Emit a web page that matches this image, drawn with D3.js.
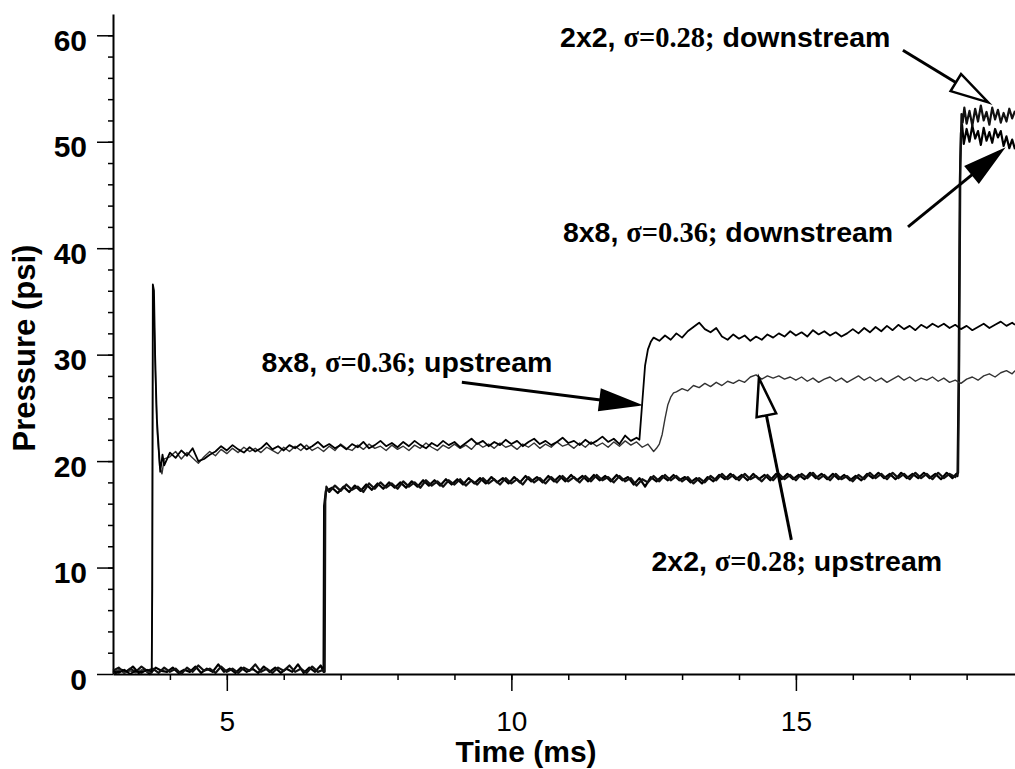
<!DOCTYPE html>
<html>
<head>
<meta charset="utf-8">
<script src="https://cdn.jsdelivr.net/npm/d3@7"></script>
<style>
  body { margin: 0; background: #fff; }
  svg { display: block; }
</style>
</head>
<body>
<svg id="chart"></svg>
<script>
// tick labels
const xMajorTicks = [5, 10, 15];
const yMajorTicks = [0, 10, 20, 30, 40, 50, 60];

// 8x8, sigma=0.36; upstream  [time (ms), pressure (psi)]
const up8Points = [
  [3.00,0.3],[3.10,0.1],[3.20,0.4],[3.30,0.0],[3.40,0.3],[3.50,0.1],[3.60,0.4],[3.68,0.2],
  [3.69,8.0],[3.70,36.6],[3.72,36.0],[3.74,30.0],[3.77,24.0],[3.80,21.5],[3.83,19.0],[3.87,20.6],[3.90,19.6],
  [4.0,20.8],[4.1,20.3],[4.2,21.0],[4.3,20.5],[4.4,21.2],[4.5,20.0],[4.6,20.2],[4.7,20.6],[4.8,20.9],[4.9,21.4],
  [5.0,21.0],[5.1,21.5],[5.2,21.1],[5.3,20.8],[5.4,21.3],[5.5,20.9],[5.6,21.2],[5.7,21.7],[5.8,21.1],[5.9,21.4],
  [6.0,21.0],[6.1,21.5],[6.2,21.2],[6.3,21.6],[6.4,21.1],[6.5,21.4],[6.6,21.8],[6.7,21.3],[6.8,21.6],[6.9,21.2],
  [7.0,21.5],[7.1,21.1],[7.2,21.6],[7.3,21.3],[7.4,21.8],[7.5,21.2],[7.6,21.5],[7.7,21.9],[7.8,21.4],[7.9,21.7],
  [8.0,21.3],[8.1,21.8],[8.2,21.4],[8.3,21.9],[8.4,21.5],[8.5,21.2],[8.6,21.7],[8.7,21.4],[8.8,21.9],[8.9,21.5],
  [9.0,21.8],[9.1,21.3],[9.2,21.7],[9.3,22.1],[9.4,21.6],[9.5,21.9],[9.6,21.4],[9.7,21.8],[9.8,21.5],[9.9,22.0],
  [10.0,21.6],[10.1,21.9],[10.2,21.4],[10.3,21.8],[10.4,22.1],[10.5,21.6],[10.6,21.9],[10.7,21.5],[10.8,21.8],[10.9,22.2],
  [11.0,21.7],[11.1,21.9],[11.2,21.5],[11.3,22.0],[11.4,21.6],[11.5,21.9],[11.6,22.3],[11.7,21.8],[11.8,22.1],[11.9,21.6],
  [12.0,22.4],[12.1,21.9],[12.2,22.2],[12.25,22.0],[12.30,25.5],[12.35,29.0],[12.40,30.5],[12.45,31.2],[12.5,31.6],
  [12.6,31.3],[12.7,31.8],[12.8,31.4],[12.9,32.0],[13.0,31.6],[13.1,32.2],[13.2,32.6],[13.3,33.0],[13.4,32.4],[13.5,32.1],
  [13.6,32.5],[13.7,31.7],[13.8,31.4],[13.9,31.9],[14.0,31.5],[14.1,31.8],[14.2,31.3],[14.3,31.7],[14.4,31.4],[14.5,31.9],
  [14.6,31.6],[14.7,32.0],[14.8,31.7],[14.9,32.2],[15.0,31.8],[15.1,32.1],[15.2,31.7],[15.3,32.3],[15.4,31.9],[15.5,32.2],
  [15.6,31.8],[15.7,32.1],[15.8,31.7],[15.9,32.0],[16.0,32.4],[16.1,32.0],[16.2,32.5],[16.3,32.1],[16.4,32.6],[16.5,32.2],
  [16.6,32.7],[16.7,32.3],[16.8,32.8],[16.9,32.4],[17.0,32.7],[17.1,32.3],[17.2,32.8],[17.3,32.5],[17.4,32.9],[17.5,32.6],
  [17.6,32.9],[17.7,32.5],[17.8,32.8],[17.9,32.4],[18.0,32.7],[18.1,32.3],[18.2,32.6],[18.3,32.9],[18.4,32.5],[18.5,32.8],
  [18.6,33.1],[18.7,32.7],[18.8,33.0],[18.85,32.8]
];

// 2x2, sigma=0.28; upstream
const up2Points = [
  [3.00,0.2],[3.10,0.4],[3.20,0.1],[3.30,0.3],[3.40,0.1],[3.50,0.4],[3.60,0.2],[3.68,0.1],
  [3.69,10.0],[3.70,35.8],[3.72,34.0],[3.75,27.0],[3.78,22.5],[3.82,19.5],[3.86,18.8],[3.90,20.2],
  [4.0,20.4],[4.1,20.9],[4.2,20.2],[4.3,20.8],[4.4,20.3],[4.5,19.8],[4.6,20.4],[4.7,20.9],[4.8,20.5],[4.9,21.1],
  [5.0,20.7],[5.1,21.2],[5.2,20.8],[5.3,21.3],[5.4,20.9],[5.5,21.2],[5.6,20.8],[5.7,21.3],[5.8,21.0],[5.9,20.7],
  [6.0,21.3],[6.1,20.9],[6.2,21.4],[6.3,21.0],[6.4,21.5],[6.5,21.0],[6.6,21.3],[6.7,20.9],[6.8,21.4],[6.9,21.0],
  [7.0,21.6],[7.1,21.2],[7.2,21.0],[7.3,21.5],[7.4,21.1],[7.5,21.6],[7.6,21.2],[7.7,21.4],[7.8,21.0],[7.9,21.5],
  [8.0,21.1],[8.1,21.4],[8.2,21.0],[8.3,21.5],[8.4,21.2],[8.5,21.7],[8.6,21.3],[8.7,21.0],[8.8,21.5],[8.9,21.2],
  [9.0,21.6],[9.1,21.2],[9.2,21.5],[9.3,21.1],[9.4,21.7],[9.5,21.3],[9.6,21.6],[9.7,21.2],[9.8,21.7],[9.9,21.3],
  [10.0,21.5],[10.1,21.1],[10.2,21.6],[10.3,21.3],[10.4,21.7],[10.5,21.2],[10.6,21.6],[10.7,21.3],[10.8,21.8],[10.9,21.4],
  [11.0,21.6],[11.1,21.2],[11.2,21.7],[11.3,21.3],[11.4,21.8],[11.5,21.4],[11.6,21.7],[11.7,21.3],[11.8,21.8],[11.9,21.4],
  [12.0,21.9],[12.1,21.5],[12.2,21.8],[12.3,21.3],[12.4,21.6],[12.5,20.9],[12.55,21.2],[12.6,21.6],
  [12.65,22.5],[12.7,24.0],[12.75,25.3],[12.8,26.0],[12.85,26.4],[12.9,26.5],
  [13.0,26.8],[13.1,26.6],[13.2,27.1],[13.3,26.9],[13.4,27.3],[13.5,27.0],[13.6,27.4],[13.7,27.1],[13.8,27.5],[13.9,27.3],
  [14.0,27.6],[14.1,27.4],[14.2,27.9],[14.3,28.1],[14.4,27.7],[14.5,28.0],[14.6,27.8],[14.7,28.0],[14.8,27.7],[14.9,27.9],
  [15.0,27.6],[15.1,27.9],[15.2,27.5],[15.3,27.8],[15.4,27.4],[15.5,27.7],[15.6,27.9],[15.7,27.5],[15.8,27.8],[15.9,27.4],
  [16.0,27.7],[16.1,28.0],[16.2,27.6],[16.3,27.9],[16.4,27.5],[16.5,27.8],[16.6,27.4],[16.7,27.7],[16.8,28.0],[16.9,27.6],
  [17.0,27.9],[17.1,27.5],[17.2,27.8],[17.3,27.6],[17.4,27.9],[17.5,27.5],[17.6,27.8],[17.7,27.4],[17.8,27.6],[17.9,27.3],
  [18.0,27.7],[18.1,27.9],[18.2,27.6],[18.3,28.0],[18.4,28.2],[18.5,27.9],[18.6,28.3],[18.7,28.5],[18.8,28.2],[18.85,28.5]
];

// 2x2, sigma=0.28; downstream
const dn2Points = [
  [3.0,0.3],[3.1,0.6],[3.2,0.1],[3.3,0.5],[3.4,0.2],[3.5,0.7],[3.6,0.3],[3.7,0.5],[3.8,0.1],[3.9,0.6],
  [4.0,0.2],[4.1,0.5],[4.2,0.0],[4.3,0.6],[4.4,0.2],[4.5,0.8],[4.6,0.3],[4.7,0.5],[4.8,0.1],[4.9,0.7],
  [5.0,0.2],[5.1,0.5],[5.2,0.1],[5.3,0.6],[5.4,0.3],[5.5,0.9],[5.6,0.2],[5.7,0.5],[5.8,0.1],[5.9,0.6],
  [6.0,0.3],[6.1,0.8],[6.2,0.2],[6.3,0.5],[6.4,0.1],[6.5,0.7],[6.6,0.2],[6.7,0.4],[6.72,0.2],
  [6.73,16.2],[6.75,17.6],[6.8,17.1],[6.9,17.7],[7.0,17.2],[7.1,17.8],[7.2,17.3],[7.3,17.6],[7.4,17.1],[7.5,17.9],
  [7.6,17.4],[7.7,18.0],[7.8,17.5],[7.9,17.9],[8.0,17.4],[8.1,18.1],[8.2,17.6],[8.3,18.0],[8.4,17.5],[8.5,18.2],
  [8.6,17.7],[8.7,18.1],[8.8,17.6],[8.9,18.2],[9.0,17.8],[9.1,18.3],[9.2,17.7],[9.3,18.2],[9.4,17.8],[9.5,18.4],
  [9.6,17.9],[9.7,18.3],[9.8,17.8],[9.9,18.4],[10.0,17.9],[10.1,18.3],[10.2,17.8],[10.3,18.5],[10.4,18.0],[10.5,18.4],
  [10.6,17.9],[10.7,18.5],[10.8,18.0],[10.9,18.6],[11.0,18.1],[11.1,18.5],[11.2,18.0],[11.3,18.6],[11.4,18.1],[11.5,18.7],
  [11.6,18.2],[11.7,18.5],[11.8,18.0],[11.9,18.6],[12.0,18.1],[12.1,18.4],[12.2,17.7],[12.3,18.3],[12.4,18.0],[12.5,18.6],
  [12.6,18.1],[12.7,18.7],[12.8,18.2],[12.9,18.6],[13.0,18.1],[13.1,18.5],[13.2,17.9],[13.3,18.4],[13.4,18.0],[13.5,18.6],
  [13.6,18.2],[13.7,18.8],[13.8,18.3],[13.9,18.7],[14.0,18.2],[14.1,18.8],[14.2,18.3],[14.3,18.6],[14.4,18.1],[14.5,18.7],
  [14.6,18.2],[14.7,18.8],[14.8,18.3],[14.9,18.7],[15.0,18.2],[15.1,18.8],[15.2,18.4],[15.3,18.9],[15.4,18.3],[15.5,18.7],
  [15.6,18.2],[15.7,18.8],[15.8,18.3],[15.9,18.6],[16.0,18.1],[16.1,18.7],[16.2,18.3],[16.3,18.9],[16.4,18.4],[16.5,18.8],
  [16.6,18.3],[16.7,18.9],[16.8,18.4],[16.9,18.8],[17.0,18.3],[17.1,18.9],[17.2,18.4],[17.3,18.8],[17.4,18.3],[17.5,18.9],
  [17.6,18.4],[17.7,18.8],[17.8,18.5],[17.85,18.9],[17.87,30.0],[17.89,48.0],[17.91,52.6],
  [17.93,51.8],[17.96,53.2],[18.0,51.7],[18.05,52.9],[18.1,51.5],[18.15,53.1],[18.2,51.9],[18.25,53.4],[18.3,52.0],
  [18.35,52.8],[18.4,51.6],[18.45,53.2],[18.5,52.1],[18.55,53.0],[18.6,51.8],[18.65,52.7],[18.7,51.9],[18.75,53.1],
  [18.8,52.2],[18.85,52.9]
];

// 8x8, sigma=0.36; downstream
const dn8Points = [
  [3.0,0.2],[3.05,0.1],[3.15,0.4],[3.25,0.2],[3.35,0.7],[3.45,0.1],[3.55,0.4],[3.65,0.0],[3.75,0.6],[3.85,0.3],[3.95,0.2],
  [4.05,0.6],[4.15,0.1],[4.25,0.4],[4.35,0.2],[4.45,0.7],[4.55,0.1],[4.65,0.5],[4.75,0.2],[4.85,0.9],[4.95,0.2],
  [5.05,0.5],[5.15,0.1],[5.25,0.6],[5.35,0.2],[5.45,0.5],[5.55,0.1],[5.65,0.7],[5.75,0.2],[5.85,0.6],[5.95,0.1],
  [6.05,0.5],[6.15,0.2],[6.25,0.9],[6.35,0.1],[6.45,0.6],[6.55,0.2],[6.65,0.8],[6.70,0.2],
  [6.71,15.8],[6.74,17.2],[6.85,17.5],[6.95,17.0],[7.05,17.6],[7.15,17.1],[7.25,17.7],[7.35,17.2],[7.45,17.8],[7.55,17.3],
  [7.65,17.9],[7.75,17.4],[7.85,18.0],[7.95,17.5],[8.05,18.0],[8.15,17.5],[8.25,18.1],[8.35,17.6],[8.45,18.2],[8.55,17.7],
  [8.65,18.2],[8.75,17.7],[8.85,18.3],[8.95,17.8],[9.05,18.3],[9.15,17.8],[9.25,18.4],[9.35,17.9],[9.45,18.4],[9.55,17.9],
  [9.65,18.5],[9.75,18.0],[9.85,18.4],[9.95,17.9],[10.05,18.5],[10.15,18.0],[10.25,18.6],[10.35,18.1],[10.45,18.5],[10.55,18.0],
  [10.65,18.6],[10.75,18.1],[10.85,18.6],[10.95,18.1],[11.05,18.7],[11.15,18.2],[11.25,18.6],[11.35,18.1],[11.45,18.7],[11.55,18.2],
  [11.65,18.6],[11.75,18.1],[11.85,18.7],[11.95,18.2],[12.05,18.5],[12.15,17.8],[12.25,18.4],[12.35,17.6],[12.45,18.5],[12.55,18.1],
  [12.65,18.6],[12.75,18.2],[12.85,18.7],[12.95,18.2],[13.05,18.5],[13.15,18.0],[13.25,18.4],[13.35,17.9],[13.45,18.5],[13.55,18.1],
  [13.65,18.7],[13.75,18.3],[13.85,18.8],[13.95,18.3],[14.05,18.7],[14.15,18.2],[14.25,18.8],[14.35,18.3],[14.45,18.7],[14.55,18.2],
  [14.65,18.8],[14.75,18.3],[14.85,18.8],[14.95,18.3],[15.05,18.7],[15.15,18.3],[15.25,18.9],[15.35,18.4],[15.45,18.8],[15.55,18.3],
  [15.65,18.8],[15.75,18.3],[15.85,18.7],[15.95,18.2],[16.05,18.6],[16.15,18.2],[16.25,18.8],[16.35,18.4],[16.45,18.9],[16.55,18.4],
  [16.65,18.8],[16.75,18.3],[16.85,18.9],[16.95,18.4],[17.05,18.8],[17.15,18.4],[17.25,18.9],[17.35,18.4],[17.45,18.8],[17.55,18.3],
  [17.65,18.9],[17.75,18.4],[17.82,18.8],[17.84,18.6],[17.86,28.0],[17.88,46.0],[17.90,50.8],
  [17.92,51.6],[17.95,49.8],[18.0,51.2],[18.05,50.0],[18.1,51.5],[18.15,50.3],[18.2,51.0],[18.25,49.7],[18.3,51.3],
  [18.35,50.1],[18.4,50.9],[18.45,49.9],[18.5,51.2],[18.55,50.4],[18.6,51.0],[18.65,49.6],[18.7,50.5],[18.75,49.4],
  [18.8,50.2],[18.85,49.3]
];

// annotation labels with arrows, positions in data units
const notes = [
  {parts: ['2x2, ', '\u03c3=0.28;', ' downstream'], at: [16.66, 58.9], tail: [16.88, 58.6], tip: [18.38, 53.7], open: true},
  {parts: ['8x8, ', '\u03c3=0.36;', ' downstream'], at: [16.71, 40.6], tail: [16.97, 42.0], tip: [18.62, 49.2], open: false},
  {parts: ['8x8, ', '\u03c3=0.36;', ' upstream'], at: [10.72, 28.4], tail: [9.13, 27.4], tip: [12.23, 25.3], open: false},
  {parts: ['2x2, ', '\u03c3=0.28;', ' upstream'], at: [17.57, 9.7], tail: [14.92, 12.6], tip: [14.35, 27.8], open: true}
];

class PressureChart {
  constructor(_config, _data) {
    this.config = {
      parentElement: _config.parentElement,
      containerWidth: _config.containerWidth || 1015,
      containerHeight: _config.containerHeight || 769,
      margin: _config.margin || {top: 14, bottom: 95, right: 0, left: 113},
    }
    this.data = _data;
    this.initVis();
  }

  initVis() {
    let vis = this;
    vis.width = vis.config.containerWidth - vis.config.margin.left - vis.config.margin.right;
    vis.height = vis.config.containerHeight - vis.config.margin.top - vis.config.margin.bottom;

    vis.xScale = d3.scaleLinear()
        .domain([3, 18.85])
        .range([0, vis.width]);

    vis.yScale = d3.scaleLinear()
        .domain([0, 62])
        .range([vis.height, 0]);

    vis.svg = d3.select(vis.config.parentElement)
        .attr('width', vis.config.containerWidth)
        .attr('height', vis.config.containerHeight);

    vis.chart = vis.svg.append('g')
        .attr('transform', `translate(${vis.config.margin.left},${vis.config.margin.top})`);

    // axis titles
    vis.svg.append('text')
        .attr('x', 526)
        .attr('y', 762)
        .attr('text-anchor', 'middle')
        .style('font-family', "'Liberation Sans', Arial, sans-serif")
        .style('font-weight', 'bold')
        .style('font-size', '30px')
        .text('Time (ms)');

    vis.svg.append('text')
        .attr('transform', 'translate(35,348) rotate(-90)')
        .attr('text-anchor', 'middle')
        .style('font-family', "'Liberation Sans', Arial, sans-serif")
        .style('font-weight', 'bold')
        .style('font-size', '31px')
        .text('Pressure (psi)');

    this.updateVis();
  }

  updateVis() {
    let vis = this;
    vis.line = d3.line()
        .x(d => vis.xScale(d[0]))
        .y(d => vis.yScale(d[1]));
    vis.renderVis();
  }

  renderVis() {
    let vis = this;
    const font = "'Liberation Sans', Arial, sans-serif";

    // minor ticks
    vis.chart.append('g')
        .attr('transform', `translate(0,${vis.height})`)
        .call(d3.axisBottom(vis.xScale).tickValues(d3.range(4, 19, 1)).tickSize(6).tickFormat(''))
        .call(g => g.select('.domain').remove());
    vis.chart.append('g')
        .call(d3.axisLeft(vis.yScale).tickValues(d3.range(2, 62, 2)).tickSize(5).tickFormat(''))
        .call(g => g.select('.domain').remove());

    // major axes
    vis.chart.append('g')
        .attr('transform', `translate(0,${vis.height})`)
        .call(d3.axisBottom(vis.xScale).tickValues(xMajorTicks).tickSize(17).tickSizeOuter(0).tickPadding(20))
        .call(g => g.selectAll('text').style('font-family', font).style('font-size', '28px').attr('fill', '#000'));
    vis.chart.append('g')
        .call(d3.axisLeft(vis.yScale).tickValues(yMajorTicks).tickSize(16).tickSizeOuter(0).tickPadding(10))
        .call(g => g.selectAll('text').style('font-family', font).style('font-size', '30px')
            .style('font-weight', 'bold').attr('dy', '0.5em').attr('fill', '#000'));

    vis.chart.selectAll('.domain').attr('stroke-width', 2);
    vis.chart.selectAll('.tick line').attr('stroke-width', 1.5);

    // traces
    vis.chart.selectAll('.trace')
        .data(vis.data)
      .join('path')
        .attr('class', 'trace')
        .attr('fill', 'none')
        .attr('stroke', d => d.color)
        .attr('stroke-width', d => d.width)
        .attr('stroke-linejoin', 'round')
        .attr('d', d => vis.line(d.points));

    // annotations
    const notesG = vis.chart.selectAll('.note')
        .data(notes)
      .join('g')
        .attr('class', 'note');

    notesG.append('text')
        .attr('x', d => vis.xScale(d.at[0]))
        .attr('y', d => vis.yScale(d.at[1]))
        .attr('text-anchor', 'end')
        .style('font-size', '28.5px')
        .style('font-weight', 'bold')
        .style('font-family', font)
        .selectAll('tspan')
        .data(d => d.parts)
      .join('tspan')
        .style('font-family', (d, i) => i === 1 ? "'Liberation Serif', 'Times New Roman', serif" : font)
        .text(d => d);

    notesG.each(function(d) {
      const g = d3.select(this);
      const x1 = vis.xScale(d.tail[0]), y1 = vis.yScale(d.tail[1]);
      const x2 = vis.xScale(d.tip[0]), y2 = vis.yScale(d.tip[1]);
      const len = Math.hypot(x2 - x1, y2 - y1);
      const ux = (x2 - x1) / len, uy = (y2 - y1) / len;
      const headLen = 38, headHalf = 10;
      const bx = x2 - ux * headLen, by = y2 - uy * headLen;
      g.append('line')
          .attr('x1', x1).attr('y1', y1)
          .attr('x2', bx).attr('y2', by)
          .attr('stroke', '#000')
          .attr('stroke-width', 3);
      g.append('polygon')
          .attr('points', [[x2, y2], [bx - uy * headHalf, by + ux * headHalf], [bx + uy * headHalf, by - ux * headHalf]].join(' '))
          .attr('fill', d.open ? '#fff' : '#000')
          .attr('stroke', '#000')
          .attr('stroke-width', 2.5)
          .attr('stroke-linejoin', 'miter');
    });
  }
}

const traces = [
  {name: 'dn8', points: dn8Points, color: '#000', width: 2.2},
  {name: 'dn2', points: dn2Points, color: '#111', width: 2.2},
  {name: 'up2', points: up2Points, color: '#333', width: 1.4},
  {name: 'up8', points: up8Points, color: '#000', width: 1.8}
];

new PressureChart({parentElement: '#chart'}, traces);
</script>
</body>
</html>
